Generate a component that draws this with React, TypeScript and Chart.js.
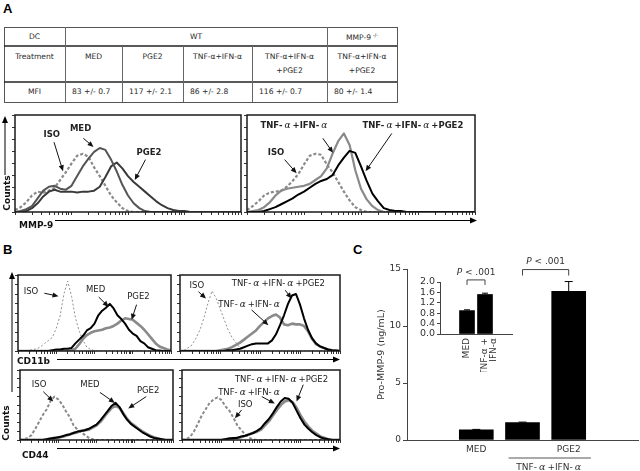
import React, { useEffect, useRef } from "react";
import { Chart, registerables } from "chart.js";

Chart.register(...registerables);

const SANS = '"DejaVu Sans", Verdana, sans-serif';
const SERIF = '"DejaVu Serif", serif';
const ARIAL = '"Liberation Sans", Arial, sans-serif';

// ===== Panel A table =====
const tableRowHeads = ["DC", "Treatment", "MFI"];
const tableGroupWT = "WT";
const tableGroupKO = "MMP-9";
const tableGroupKOSup = "-/-";
const tableTreatments = [["MED"], ["PGE2"], ["TNF-α+IFN-α"], ["TNF-α+IFN-α", "+PGE2"], ["TNF-α+IFN-α", "+PGE2"]];
const tableMFI = ["83 +/- 0.7", "117 +/- 2.1", "86 +/- 2.8", "116 +/- 0.7", "80 +/- 1.4"];

// ===== Histogram counts (% of panel height), 41 channels over 4 log decades =====
// Panel A, MMP-9
const aIsoL = [2,5,10,17,21,20,22,25,33,41, 50,58,60,57,46,37,27,17,10,4, 1,0,0,0,0,0,0,0,0,0, 0,0,0,0,0,0,0,0,0,0, 0];
const aMedL = [0,1,3,6,14,22,26,27,24,23, 27,37,47,55,62,66,64,54,42,28, 17,9,4,1,0,0,0,0,0,0, 0,0,0,0,0,0,0,0,0,0, 0];
const aPgeL = [0,0,1,4,9,16,21,23,21,21, 21,20,21,21,22,26,36,47,51,45, 37,31,26,21,16,11,7,4,2,1, 1,0,0,0,0,0,0,0,0,0, 0];
const aIsoR = [2,6,11,17,20,21,22,26,32,39, 49,58,60,59,49,41,31,21,12,5, 2,0,0,0,0,0,0,0,0,0, 0,0,0,0,0,0,0,0,0,0, 0];
const aTnfR = [0,1,2,5,10,17,22,24,25,26, 27,29,33,37,45,60,73,81,69,43, 24,13,6,2,0,0,0,0,0,0, 0,0,0,0,0,0,0,0,0,0, 0];
const aTnfPgeR = [0,0,0,1,3,5,8,11,14,18, 21,25,29,32,34,38,48,56,63,61, 47,32,19,11,4,2,1,1,0,0, 0,0,0,0,0,0,0,0,0,0, 0];
// Panel B, CD11b
const bIsoTL = [0,0,0.5,1,2,3,6,10,14,18, 30,46,75,92,72,44,26,14,5,2, 0.5,0,0,0,0,0,0,0,0,0, 0,0,0,0,0,0,0,0,0,0, 0];
const bMedTL = [0,0,0,0,0,0,0,0,0,1, 2,2,3,3,4,10,15,20,27,30, 36,47,53,57,62,56,47,42,36,28, 23,20,13,10,5,3,1,0.5,0,0, 0];
const bPgeTL = [0,0,0,0,0,0,0,0,0,0, 0,0,0,0,1,3,9,16,21,24, 26,27,28,30,31,33,36,40,43,42, 41,37,33,28,22,16,10,6,4,2, 1];
const bIsoTR = [0,1,4,8,17,28,44,63,79,70, 56,42,28,18,11,4,1,0,0,0, 0,0,0,0,0,0,0,0,0,0, 0,0,0,0,0,0,0,0,0,0, 0];
const bTnfTR = [0,0,0,0,0,0,0,0,0,0, 1,2,3,5,8,11,15,19,23,27, 33,38,43,46,48,44,35,34,36,35, 35,33,26,16,9,6,4,2,1,0.5, 0];
const bTnfPgeTR = [0,0,0,0,0,0,0,0,0,0, 0,0,1,1,2,3,5,7,9,10, 10,10,10,14,22,34,47,62,73,75, 61,43,28,17,10,6,4,2,1,0.5, 0];
// Panel B, CD44
const bIsoBL = [0,1,3,7,16,26,36,44,56,62, 58,51,41,33,21,15,11,7,3,1, 0,0,0,0,0,0,0,0,0,0, 0,0,0,0,0,0,0,0,0,0, 0];
const bMedBL = [0,0,0,0,0,0,0,1,2,3, 4,5,7,8,10,12,13,14,16,19, 22,28,35,42,49,53,47,37,29,23, 19,15,11,8,5,3,2,1,0,0, 0];
const bPgeBL = [0,0,0,0,0,0,0,1,2,3, 3,5,6,8,10,11,13,14,15,18, 21,26,33,40,46,49,46,38,30,24, 20,16,12,9,6,4,2,1,0,0, 0];
const bIsoBR = [0,1,4,12,23,35,44,53,58,61, 57,48,42,32,21,14,8,3,1,0, 0,0,0,0,0,0,0,0,0,0, 0,0,0,0,0,0,0,0,0,0, 0];
const bTnfBR = [0,0,0,0,0,0,0,0,0,0, 0,1,2,2,3,4,6,8,10,12, 15,21,27,35,43,50,55,57,54,46, 35,26,19,13,9,5,3,1,0,0, 0];
const bTnfPgeBR = [0,0,0,0,0,0,0,0,0,0, 0,1,2,3,3,5,6,8,10,13, 17,24,30,38,47,55,60,59,53,42, 31,22,16,11,7,4,2,1,0,0, 0];

// ===== Panel C =====
const cCategories = ["MED", "TNF-α+IFN-α", "TNF-α+IFN-α+PGE2"];
const cTickLabels = ["MED", "", "PGE2"];
const cValues = [0.9, 1.52, 13.05];
const cErrors = [0.03, 0.05, 0.85];
const cGroupLabel = "TNF-α+IFN-α";
const cPLabel = "P < .001";
const cYTitle = "Pro-MMP-9 (ng/mL)";
const insetCategories = ["MED", "TNF-α+IFN-α"];
const insetTickLabels = [["MED"], ["TNF-α +", "IFN-α"]];

// ===== drawing helpers =====
type Run = { t: string; font: string; pad: number };

function greekRuns(text: string, font: string, greek: string): Run[] {
  return text.split(/(α)/).filter((p) => p.length > 0).map((p) =>
    p === "α" ? { t: p, font: greek, pad: 2 } : { t: p, font, pad: 0 }
  );
}

function drawRuns(ctx: CanvasRenderingContext2D, runs: Run[], cx: number, cy: number, color: string) {
  const widths = runs.map((r) => {
    ctx.font = r.font;
    return ctx.measureText(r.t).width + r.pad * 2;
  });
  const total = widths.reduce((a, b) => a + b, 0);
  let x = cx - total / 2;
  ctx.fillStyle = color;
  ctx.textAlign = "left";
  ctx.textBaseline = "middle";
  runs.forEach((r, i) => {
    ctx.font = r.font;
    ctx.fillText(r.t, x + r.pad, cy);
    x += widths[i];
  });
}

function drawArrow(ctx: CanvasRenderingContext2D, x1: number, y1: number, x2: number, y2: number, color: string) {
  const ang = Math.atan2(y2 - y1, x2 - x1);
  const L = 6, W = 2.6;
  const c = Math.cos(ang), s = Math.sin(ang);
  ctx.strokeStyle = color;
  ctx.fillStyle = color;
  ctx.lineWidth = 1;
  ctx.beginPath();
  ctx.moveTo(x1, y1);
  ctx.lineTo(x2 - L * 0.7 * c, y2 - L * 0.7 * s);
  ctx.stroke();
  ctx.beginPath();
  ctx.moveTo(x2, y2);
  ctx.lineTo(x2 - L * c + W * s, y2 - L * s - W * c);
  ctx.lineTo(x2 - L * c - W * s, y2 - L * s + W * c);
  ctx.closePath();
  ctx.fill();
}

function logTicks() {
  const t: { value: number }[] = [];
  for (let d = 0; d < 4; d++) for (let k = 1; k <= 9; k++) t.push({ value: 10 * d + 10 * Math.log10(k) });
  t.push({ value: 40 });
  return t;
}

type Series = { data: number[]; color: string; width: number; dash?: number[]; order: number };
type Note = { text: string; tx: number; ty: number; ax: number; ay: number; bx: number; by: number };
type Box = { l: number; t: number; r: number; b: number };

const boxPlugin = {
  id: "boxFrame",
  afterDatasetsDraw(chart: any) {
    const { ctx, chartArea: a } = chart;
    ctx.save();
    ctx.strokeStyle = "#1a1a1a";
    ctx.lineWidth = 1.5;
    ctx.strokeRect(a.left, a.top, a.right - a.left, a.bottom - a.top);
    ctx.restore();
  },
};

function makeNotesPlugin(notes: Note[], bold: boolean) {
  return {
    id: "notes",
    afterDraw(chart: any) {
      const { ctx, scales } = chart;
      const x = scales.x, y = scales.y;
      ctx.save();
      const font = bold ? `bold 8.5px ${SANS}` : `8.5px ${SANS}`;
      const greek = `italic 9px ${SERIF}`;
      for (const n of notes) {
        drawArrow(ctx, x.getPixelForValue(n.ax), y.getPixelForValue(n.ay), x.getPixelForValue(n.bx), y.getPixelForValue(n.by), "#111");
        drawRuns(ctx, greekRuns(n.text, font, greek), x.getPixelForValue(n.tx), y.getPixelForValue(n.ty), "#222");
      }
      ctx.restore();
    },
  };
}

function Histogram({ box, series, notes, bold }: { box: Box; series: Series[]; notes: Note[]; bold: boolean }) {
  const ref = useRef<HTMLCanvasElement>(null);
  const w = box.r - box.l + 5;
  const h = box.b - box.t + 5;
  useEffect(() => {
    const chart = new Chart(ref.current as HTMLCanvasElement, {
      type: "line",
      data: {
        datasets: series.map((s) => ({
          data: s.data.map((v, i) => ({ x: i, y: v })),
          borderColor: s.color,
          borderWidth: s.width,
          borderDash: s.dash || [],
          pointRadius: 0,
          tension: 0,
          fill: false,
          order: s.order,
          borderJoinStyle: "round",
        })),
      },
      options: {
        animation: false,
        responsive: false,
        events: [],
        layout: { padding: { top: 1, right: 1, left: 0, bottom: 0 } },
        plugins: { legend: { display: false }, tooltip: { enabled: false } },
        scales: {
          x: {
            type: "linear",
            min: 0,
            max: 40,
            afterBuildTicks: (s: any) => { s.ticks = logTicks(); },
            ticks: { display: false, autoSkip: false },
            grid: { drawOnChartArea: false, tickLength: 3, color: "#333" },
            border: { display: false },
            afterFit: (s: any) => { s.height = 4; },
          },
          y: {
            type: "linear",
            min: 0,
            max: 100,
            ticks: { display: false, stepSize: 12.5, autoSkip: false },
            grid: { drawOnChartArea: false, tickLength: 3, color: "#333" },
            border: { display: false },
            afterFit: (s: any) => { s.width = 4; },
          },
        },
      } as any,
      plugins: [boxPlugin, makeNotesPlugin(notes, bold)],
    });
    return () => chart.destroy();
  }, []);
  return (
    <canvas ref={ref} width={w} height={h}
      style={{ position: "absolute", left: box.l - 4, top: box.t - 1, width: w, height: h }} />
  );
}

function CMain() {
  const ref = useRef<HTMLCanvasElement>(null);
  useEffect(() => {
    const plugin = {
      id: "cmain",
      afterDraw(chart: any) {
        const { ctx, scales, chartArea } = chart;
        const x = scales.x, y = scales.y;
        ctx.save();
        ctx.strokeStyle = "#000";
        ctx.lineWidth = 1;
        cValues.forEach((v, i) => {
          const px = x.getPixelForValue(i + 1);
          const y0 = y.getPixelForValue(v), y1 = y.getPixelForValue(v + cErrors[i]);
          ctx.beginPath();
          ctx.moveTo(px, y0); ctx.lineTo(px, y1);
          ctx.moveTo(px - 4, y1); ctx.lineTo(px + 4, y1);
          ctx.stroke();
        });
        ctx.strokeStyle = "#444";
        const by = y.getPixelForValue(14.95);
        const bx1 = x.getPixelForValue(2), bx2 = x.getPixelForValue(3);
        ctx.beginPath();
        ctx.moveTo(bx1, by + 6); ctx.lineTo(bx1, by); ctx.lineTo(bx2, by); ctx.lineTo(bx2, by + 6);
        ctx.stroke();
        drawRuns(ctx, [{ t: "P", font: `italic 9px ${SANS}`, pad: 0 }, { t: cPLabel.slice(1), font: `9px ${SANS}`, pad: 0 }], (bx1 + bx2) / 2, by - 8, "#333");
        const gy = chartArea.bottom + 18;
        const g1 = x.getPixelForValue(1.7), g2 = x.getPixelForValue(3.48);
        ctx.strokeStyle = "#555";
        ctx.beginPath(); ctx.moveTo(g1, gy); ctx.lineTo(g2, gy); ctx.stroke();
        drawRuns(ctx, greekRuns(cGroupLabel, `9px ${SANS}`, `italic 9.5px ${SERIF}`), (g1 + g2) / 2, gy + 10, "#333");
        ctx.restore();
      },
    };
    const chart = new Chart(ref.current as HTMLCanvasElement, {
      type: "bar",
      data: {
        datasets: [{
          label: "Pro-MMP-9",
          data: cValues.map((v, i) => ({ x: i + 1, y: v, c: cCategories[i] })),
          backgroundColor: "#000",
          barThickness: 34,
        }],
      },
      options: {
        animation: false,
        responsive: false,
        events: [],
        layout: { padding: { top: 19, right: 2, left: 0, bottom: 0 } },
        plugins: { legend: { display: false }, tooltip: { enabled: false } },
        scales: {
          x: {
            type: "linear",
            min: 0,
            max: 4,
            ticks: {
              stepSize: 1,
              autoSkip: false,
              maxRotation: 0,
              padding: 4,
              color: "#333",
              font: { family: SANS, size: 9 },
              callback: (v: any) => cTickLabels[Number(v) - 1] ?? "",
            },
            grid: { display: false, drawTicks: false },
            border: { color: "#444", width: 1 },
            afterFit: (s: any) => { s.height = 31; },
          },
          y: {
            min: 0,
            max: 15,
            ticks: { stepSize: 5, autoSkip: false, color: "#333", padding: 2, font: { family: SANS, size: 9 } },
            grid: { drawOnChartArea: false, tickLength: 4, color: "#444" },
            border: { color: "#444", width: 1 },
            title: { display: true, text: cYTitle, color: "#333", padding: 0, font: { family: SANS, size: 9.5 } },
            afterFit: (s: any) => { s.width = 31; },
          },
        },
      } as any,
      plugins: [plugin],
    });
    return () => chart.destroy();
  }, []);
  return <canvas ref={ref} width={264} height={221} style={{ position: "absolute", left: 376, top: 250, width: 264, height: 221 }} />;
}

function CInset() {
  const ref = useRef<HTMLCanvasElement>(null);
  useEffect(() => {
    const plugin = {
      id: "cinset",
      afterDraw(chart: any) {
        const { ctx, scales } = chart;
        const x = scales.x, y = scales.y;
        ctx.save();
        ctx.strokeStyle = "#000";
        ctx.lineWidth = 1;
        [0, 1].forEach((i) => {
          const px = x.getPixelForValue(i + 1);
          const y0 = y.getPixelForValue(cValues[i]), y1 = y.getPixelForValue(cValues[i] + cErrors[i]);
          ctx.beginPath();
          ctx.moveTo(px, y0); ctx.lineTo(px, y1);
          ctx.moveTo(px - 3, y1); ctx.lineTo(px + 3, y1);
          ctx.stroke();
        });
        ctx.strokeStyle = "#444";
        const by = y.getPixelForValue(2.08);
        const bx1 = x.getPixelForValue(1), bx2 = x.getPixelForValue(2);
        ctx.beginPath();
        ctx.moveTo(bx1, by + 5); ctx.lineTo(bx1, by); ctx.lineTo(bx2, by); ctx.lineTo(bx2, by + 5);
        ctx.stroke();
        drawRuns(ctx, [{ t: "P", font: `italic 9px ${SANS}`, pad: 0 }, { t: cPLabel.slice(1), font: `9px ${SANS}`, pad: 0 }], (bx1 + bx2) / 2, by - 7, "#333");
        ctx.restore();
      },
    };
    const chart = new Chart(ref.current as HTMLCanvasElement, {
      type: "bar",
      data: {
        datasets: [{
          label: "inset",
          data: [0, 1].map((i) => ({ x: i + 1, y: cValues[i], c: insetCategories[i] })),
          backgroundColor: "#000",
          barThickness: 15,
        }],
      },
      options: {
        animation: false,
        responsive: false,
        events: [],
        layout: { padding: { top: 24, right: 8, left: 0, bottom: 0 } },
        plugins: { legend: { display: false }, tooltip: { enabled: false } },
        scales: {
          x: {
            type: "linear",
            min: 0,
            max: 3,
            ticks: {
              stepSize: 1,
              autoSkip: false,
              minRotation: 90,
              maxRotation: 90,
              padding: 4,
              color: "#333",
              font: { family: SANS, size: 9, lineHeight: 1.0 },
              callback: (v: any) => insetTickLabels[Number(v) - 1] ?? "",
            },
            grid: { display: false, drawTicks: false },
            border: { color: "#444", width: 1 },
            afterFit: (s: any) => { s.height = 38; },
          },
          y: {
            min: 0,
            max: 2,
            ticks: { stepSize: 0.4, autoSkip: false, color: "#333", padding: 2, font: { family: SANS, size: 9.5 }, callback: (v: any) => Number(v).toFixed(1) },
            grid: { drawOnChartArea: false, tickLength: 3, color: "#444" },
            border: { color: "#444", width: 1 },
            afterFit: (s: any) => { s.width = 40; },
          },
        },
      } as any,
      plugins: [plugin],
    });
    return () => chart.destroy();
  }, []);
  return <canvas ref={ref} width={120} height={114} style={{ position: "absolute", left: 400, top: 258, width: 120, height: 114 }} />;
}

// ===== layout (positions only) =====
const ISO_A = { color: "#8a8a8a", width: 2.2, dash: [3, 2], order: 3 };
const ISO_B_THIN = { color: "#909090", width: 1, dash: [2, 2], order: 3 };
const ISO_B = { color: "#8a8a8a", width: 2, dash: [3, 2], order: 3 };

const panels: { box: Box; series: Series[]; notes: Note[]; bold: boolean }[] = [
  {
    box: { l: 15, t: 115, r: 241, b: 212 }, bold: true,
    series: [
      { data: aIsoL, ...ISO_A },
      { data: aMedL, color: "#555", width: 2, order: 1 },
      { data: aPgeL, color: "#3a3a3a", width: 2, order: 2 },
    ],
    notes: [
      { text: "ISO", tx: 6.5, ty: 80, ax: 6.9, ay: 72, bx: 8.5, by: 42 },
      { text: "MED", tx: 11.6, ty: 86, ax: 12.1, ay: 76, bx: 13.9, by: 67 },
      { text: "PGE2", tx: 23.7, ty: 61, ax: 23.1, ay: 54, bx: 21.2, by: 33 },
    ],
  },
  {
    box: { l: 247, t: 115, r: 475, b: 212 }, bold: true,
    series: [
      { data: aIsoR, ...ISO_A },
      { data: aTnfR, color: "#8a8a8a", width: 2.2, order: 2 },
      { data: aTnfPgeR, color: "#000", width: 2, order: 1 },
    ],
    notes: [
      { text: "TNF-α+IFN-α", tx: 8.4, ty: 89, ax: 13.3, ay: 76, bx: 15.1, by: 61 },
      { text: "ISO", tx: 5.1, ty: 61, ax: 6.6, ay: 54, bx: 8.7, by: 40 },
      { text: "TNF-α+IFN-α+PGE2", tx: 29.1, ty: 89, ax: 25.4, ay: 81, bx: 20.8, by: 42 },
    ],
  },
  {
    box: { l: 18, t: 275, r: 171, b: 351 }, bold: false,
    series: [
      { data: bIsoTL, ...ISO_B_THIN },
      { data: bMedTL, color: "#000", width: 2, order: 1 },
      { data: bPgeTL, color: "#8a8a8a", width: 2.6, order: 2 },
    ],
    notes: [
      { text: "ISO", tx: 3.4, ty: 78, ax: 6.9, ay: 76, bx: 10.6, by: 72 },
      { text: "MED", tx: 20.3, ty: 81, ax: 21.1, ay: 71, bx: 23.7, by: 58 },
      { text: "PGE2", tx: 31.5, ty: 71, ax: 31, ay: 61, bx: 29.7, by: 41 },
    ],
  },
  {
    box: { l: 180, t: 275, r: 340, b: 351 }, bold: false,
    series: [
      { data: bIsoTR, ...ISO_B_THIN },
      { data: bTnfTR, color: "#8a8a8a", width: 2.6, order: 2 },
      { data: bTnfPgeTR, color: "#000", width: 2, order: 1 },
    ],
    notes: [
      { text: "ISO", tx: 4.2, ty: 86, ax: 4.6, ay: 78, bx: 6.5, by: 69 },
      { text: "TNF-α+IFN-α+PGE2", tx: 24.6, ty: 88, ax: 26.3, ay: 80, bx: 27.9, by: 69 },
      { text: "TNF-α+IFN-α", tx: 17.5, ty: 61, ax: 17.9, ay: 54, bx: 22.1, by: 34 },
    ],
  },
  {
    box: { l: 20, t: 370, r: 173, b: 440 }, bold: false,
    series: [
      { data: bIsoBL, ...ISO_B },
      { data: bMedBL, color: "#000", width: 2, order: 1 },
      { data: bPgeBL, color: "#8a8a8a", width: 2.8, order: 2 },
    ],
    notes: [
      { text: "ISO", tx: 5, ty: 79, ax: 6.1, ay: 69, bx: 8.7, by: 55 },
      { text: "MED", tx: 18.3, ty: 79, ax: 20.9, ay: 68, bx: 24.8, by: 53 },
      { text: "PGE2", tx: 33.5, ty: 71, ax: 33, ay: 62, bx: 28.3, by: 45 },
    ],
  },
  {
    box: { l: 182, t: 370, r: 340, b: 440 }, bold: false,
    series: [
      { data: bIsoBR, ...ISO_B },
      { data: bTnfBR, color: "#8a8a8a", width: 2.8, order: 2 },
      { data: bTnfPgeBR, color: "#000", width: 2, order: 1 },
    ],
    notes: [
      { text: "TNF-α+IFN-α+PGE2", tx: 25.2, ty: 86, ax: 30.7, ay: 79, bx: 29, by: 55 },
      { text: "TNF-α+IFN-α", tx: 17.2, ty: 68, ax: 20.2, ay: 62, bx: 23.5, by: 52 },
      { text: "ISO", tx: 16, ty: 51, ax: 15.1, ay: 43, bx: 13.4, by: 31 },
    ],
  },
];

const colX = [4, 65, 122, 183, 252, 327, 397];
const rowY = [27, 46, 82, 102];

function T({ x, y, children, size = 7.6, bold = false, align = "center", rotate = false, family = SANS, color = "#2a2a2a" }: any) {
  const tx = align === "center" ? "-50%" : "0";
  return (
    <div style={{
      position: "absolute", left: x, top: y, transform: `translate(${tx}, -50%)${rotate ? " rotate(-90deg)" : ""}`,
      fontFamily: family, fontSize: size, fontWeight: bold ? "bold" : "normal", lineHeight: 1, whiteSpace: "nowrap", color,
    }}>{children}</div>
  );
}

function Arrowhead({ x, y, dir }: { x: number; y: number; dir: "up" | "right" }) {
  const pts = dir === "up" ? `${x},${y} ${x - 3},${y + 7} ${x + 3},${y + 7}` : `${x},${y} ${x - 7},${y - 3} ${x - 7},${y + 3}`;
  return <polygon points={pts} fill="#000" />;
}

export default function App() {
  return (
    <div style={{ position: "absolute", left: 0, top: 0, width: 640, height: 471, background: "#fff", overflow: "hidden" }}>
      <svg width={640} height={471} style={{ position: "absolute", left: 0, top: 0 }}>
        {/* table frame */}
        <rect x={colX[0] + 0.5} y={rowY[0] + 0.5} width={colX[6] - colX[0]} height={rowY[3] - rowY[0]} fill="none" stroke="#555" strokeWidth={1} />
        <line x1={colX[0]} y1={rowY[1]} x2={colX[6]} y2={rowY[1]} stroke="#222" strokeWidth={1.6} />
        <line x1={colX[0]} y1={rowY[2]} x2={colX[6]} y2={rowY[2]} stroke="#222" strokeWidth={1.6} />
        <line x1={colX[1] + 0.5} y1={rowY[0]} x2={colX[1] + 0.5} y2={rowY[3]} stroke="#666" strokeWidth={1} />
        <line x1={colX[5] + 0.5} y1={rowY[0]} x2={colX[5] + 0.5} y2={rowY[3]} stroke="#666" strokeWidth={1} />
        {[2, 3, 4].map((i) => (
          <line key={i} x1={colX[i] + 0.5} y1={rowY[1]} x2={colX[i] + 0.5} y2={rowY[3]} stroke="#666" strokeWidth={1} />
        ))}
        {/* panel A axes */}
        <line x1={5} y1={175} x2={5} y2={122} stroke="#000" strokeWidth={1} />
        <Arrowhead x={5} y={116} dir="up" />
        <line x1={55} y1={220.5} x2={472} y2={220.5} stroke="#000" strokeWidth={1} />
        <Arrowhead x={477} y={220.5} dir="right" />
        {/* panel B axes */}
        <line x1={12} y1={392} x2={12} y2={278} stroke="#000" strokeWidth={1} />
        <Arrowhead x={12} y={272} dir="up" />
        <line x1={57} y1={359.5} x2={334} y2={359.5} stroke="#000" strokeWidth={1} />
        <Arrowhead x={340} y={359.5} dir="right" />
        <line x1={57} y1={448.5} x2={334} y2={448.5} stroke="#000" strokeWidth={1} />
        <Arrowhead x={340} y={448.5} dir="right" />
      </svg>

      {/* panel letters */}
      <div style={{ position: "absolute", left: 3, top: 2, fontFamily: ARIAL, fontWeight: "bold", fontSize: 13, lineHeight: 1 }}>A</div>
      <div style={{ position: "absolute", left: 3, top: 243, fontFamily: ARIAL, fontWeight: "bold", fontSize: 13, lineHeight: 1 }}>B</div>
      <div style={{ position: "absolute", left: 353, top: 243, fontFamily: ARIAL, fontWeight: "bold", fontSize: 13, lineHeight: 1 }}>C</div>

      {/* table text */}
      <T x={(colX[0] + colX[1]) / 2} y={37}>{tableRowHeads[0]}</T>
      <T x={(colX[1] + colX[5]) / 2} y={37}>{tableGroupWT}</T>
      <T x={(colX[5] + colX[6]) / 2} y={37}>{tableGroupKO}<sup style={{ fontSize: 5, verticalAlign: "3px" }}> {tableGroupKOSup}</sup></T>
      <T x={(colX[0] + colX[1]) / 2} y={57}>{tableRowHeads[1]}</T>
      {tableTreatments.map((lines, i) => lines.map((ln, j) => (
        <T key={`${i}-${j}`} x={(colX[i + 1] + colX[i + 2]) / 2} y={57 + j * 14}>{ln}</T>
      )))}
      <T x={(colX[0] + colX[1]) / 2} y={92}>{tableRowHeads[2]}</T>
      {tableMFI.map((v, i) => (
        <T key={i} x={colX[i + 1] + 7} y={92} align="left">{v}</T>
      ))}

      {/* histograms */}
      {panels.map((p, i) => <Histogram key={i} box={p.box} series={p.series} notes={p.notes} bold={p.bold} />)}

      {/* axis captions */}
      <T x={7} y={193} size={9} bold rotate color="#111">Counts</T>
      <T x={19} y={225} size={9} bold align="left" color="#111">MMP-9</T>
      <T x={17} y={361} size={9} bold align="left" color="#111">CD11b</T>
      <T x={22} y={455} size={9} bold align="left" color="#111">CD44</T>
      <T x={6} y={423} size={9} bold rotate color="#111">Counts</T>

      <CMain />
      <CInset />
    </div>
  );
}
